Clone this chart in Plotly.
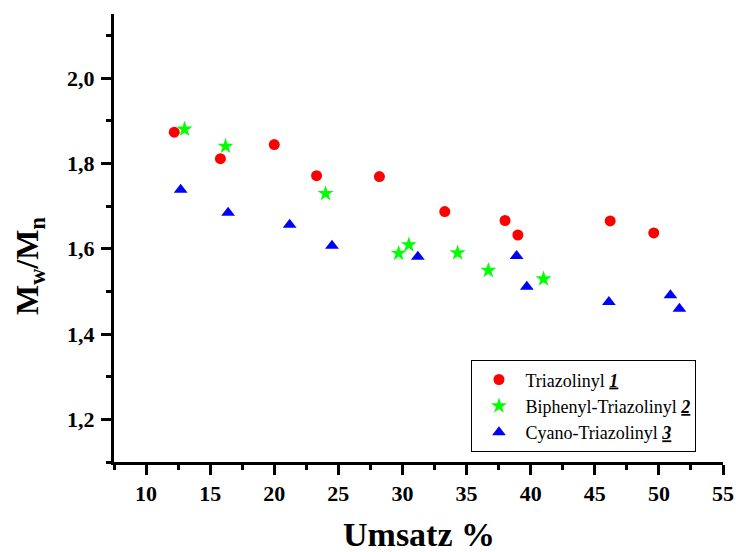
import plotly.graph_objects as go

# Conversion (Umsatz, %) and dispersity Mw/Mn for the three initiators
tri_x = [12.2, 15.8, 20.0, 23.3, 28.2, 33.3, 38.0, 39.0, 46.2, 49.6]
tri_y = [1.873, 1.811, 1.844, 1.771, 1.769, 1.687, 1.666, 1.632, 1.665, 1.637]

biph_x = [13.0, 16.2, 24.0, 29.7, 30.5, 34.3, 36.7, 41.0]
biph_y = [1.880, 1.840, 1.729, 1.589, 1.609, 1.590, 1.549, 1.529]

cyano_x = [12.7, 16.4, 21.2, 24.5, 31.2, 38.9, 39.7, 46.1, 50.9, 51.6]
cyano_y = [1.738, 1.684, 1.656, 1.607, 1.581, 1.583, 1.511, 1.475, 1.491, 1.459]

names = [
    "Triazolinyl <b><i><u>1</u></i></b>",
    "Biphenyl-Triazolinyl <b><i><u>2</u></i></b>",
    "Cyano-Triazolinyl <b><i><u>3</u></i></b>",
]

x_ticks = [10, 15, 20, 25, 30, 35, 40, 45, 50, 55]
y_ticks = [1.2, 1.4, 1.6, 1.8, 2.0]

SERIF = "Liberation Serif"

fig = go.Figure()
fig.add_trace(go.Scatter(x=tri_x, y=tri_y, mode="markers", name=names[0],
                         marker=dict(symbol="circle", size=11, color="#ff0000",
                                     line=dict(width=0))))
fig.add_trace(go.Scatter(x=biph_x, y=biph_y, mode="markers", name=names[1],
                         marker=dict(symbol="star", size=12, color="#00ff00",
                                     line=dict(width=0))))
fig.add_trace(go.Scatter(x=cyano_x, y=cyano_y, mode="markers", name=names[2],
                         marker=dict(symbol="triangle-up", size=12, color="#0000ff",
                                     line=dict(width=0))))

axis_common = dict(
    showgrid=False, zeroline=False, showline=True, linecolor="black", linewidth=3,
    ticks="outside", ticklen=10, tickwidth=3, tickcolor="black",
    tickfont=dict(family=SERIF, size=22, color="black", weight="bold"),
    mirror=False, automargin=False,
)

fig.update_xaxes(
    range=[7.5, 55], tickvals=x_ticks, tickformat="d",
    minor=dict(ticks="outside", ticklen=5, tickwidth=3, tickcolor="black", dtick=2.5, tick0=7.5),
    **axis_common,
)
fig.update_yaxes(
    range=[1.1, 2.15], tickvals=y_ticks, tickformat=".1f",
    minor=dict(ticks="outside", ticklen=5, tickwidth=3, tickcolor="black", dtick=0.1, tick0=1.1),
    ticklabelstandoff=2,
    **axis_common,
)

# axis titles
fig.add_annotation(text="Umsatz %", xref="paper", yref="paper", x=0.5, y=0,
                   xanchor="center", yanchor="middle", yshift=-72, showarrow=False,
                   font=dict(family=SERIF, size=34, color="black", weight="bold"))
fig.add_annotation(text="M<sub>w</sub>/M<sub>n</sub>", xref="paper", yref="paper",
                   x=0, y=0.5, xanchor="center", yanchor="middle", xshift=-85, yshift=-28,
                   textangle=-90, showarrow=False,
                   font=dict(family=SERIF, size=32, color="black", weight="bold"))

fig.update_layout(
    width=736, height=552,
    margin=dict(l=114, r=13, t=14, b=90),
    paper_bgcolor="white", plot_bgcolor="white",
    separators=",.",
    showlegend=True,
    legend=dict(
        x=0.587, y=0.227, xanchor="left", yanchor="top",
        bordercolor="black", borderwidth=1, bgcolor="white",
        font=dict(family=SERIF, size=18, color="black"),
        itemwidth=43,
    ),
)

fig.write_html("out.html")
